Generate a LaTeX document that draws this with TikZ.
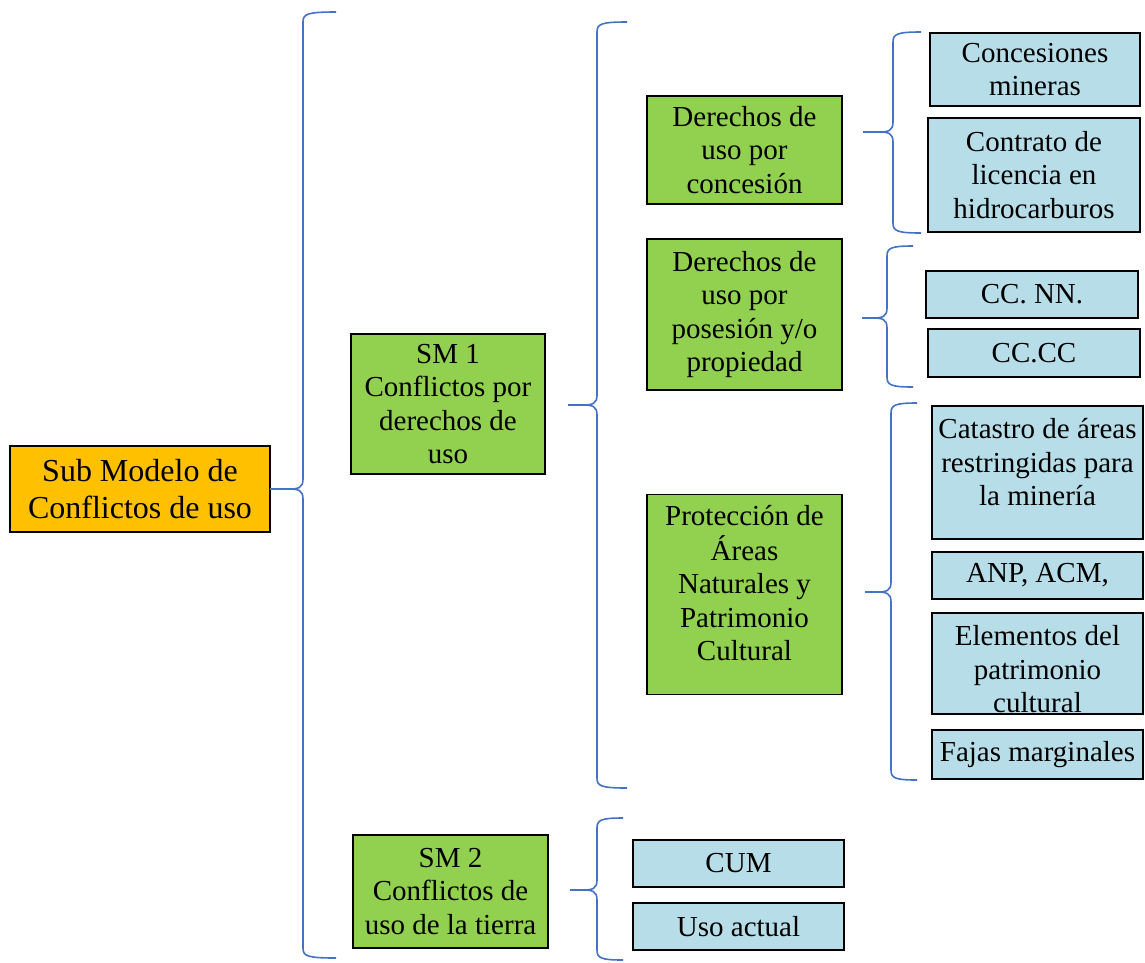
\documentclass[tikz,border=0pt]{standalone}
\usepackage{fontspec}
\setmainfont{Liberation Serif}
\usepackage{xcolor}
\usepackage{tikz}
\usetikzlibrary{calc}

\definecolor{rootfill}{RGB}{255,192,0}
\definecolor{smfill}{RGB}{146,208,80}
\definecolor{leaffill}{RGB}{183,222,232}
\definecolor{bracecol}{RGB}{68,114,196}

\newcommand{\lines}[2]{\raisebox{#1}[\height][\depth]{\begin{tabular}{@{}c@{}}#2\end{tabular}}}

\begin{document}
\begin{tikzpicture}[x = 1pt, y = -1pt,
		box/.style = {draw, line width = 1.5pt, align = center, inner sep = 0pt, font = \fontsize{29}{33.5}\selectfont},
		rootbox/.style = {box, fill = rootfill, font = \fontsize{32}{37}\selectfont},
		smbox/.style = {box, fill = smfill},
		leafbox/.style = {box, fill = leaffill},
		bracestyle/.style = {draw = bracecol, line width = 1.6pt, line join = round}]

			\useasboundingbox (0,0) rectangle (1145,962);

			% #1 tip x, #2 tip y, #3 spine x, #4 top y, #5 bottom y, #6 end x
			\def\sidebrace#1#2#3#4#5#6{%
				\draw [bracestyle] (#6,#4) .. controls (#3+4,#4) and (#3,#4+2) .. (#3,#4+10)
					-- (#3,#2-10) .. controls (#3,#2-1) and (#3-5,#2) .. (#3-14,#2) -- (#1,#2);
				\draw [bracestyle] (#3-14,#2) .. controls (#3-5,#2) and (#3,#2+1) .. (#3,#2+10)
					-- (#3,#5-10) .. controls (#3,#5-2) and (#3+4,#5) .. (#6,#5);
			}

			\begin{scope}
				\node [rootbox, minimum width = 260, minimum height = 86] (root) at (140,489) {Sub Modelo de\\Conflictos de uso};
				\node [smbox, minimum width = 194, minimum height = 140] (sm1) at (448,404) {SM 1\\Conflictos por\\derechos de\\uso};
				\node [smbox, minimum width = 195, minimum height = 113] (sm2) at (450.5,891.5) {SM 2\\Conflictos de\\uso de la tierra};
			\end{scope}

			\begin{scope}
				\node [smbox, minimum width = 195, minimum height = 108] (dcon) at (744.5,150) {Derechos de\\uso por\\concesión};
				\node [smbox, minimum width = 195, minimum height = 151] (dpos) at (744.5,314.5) {Derechos de\\uso por\\posesión y/o\\propiedad};
				\node [smbox, minimum width = 195, minimum height = 200] (prot) at (744.5,594.5) {\lines{8pt}{Protección de\\Áreas\\Naturales y\\Patrimonio\\Cultural}};
			\end{scope}

			\begin{scope}
				\node [leafbox, minimum width = 210, minimum height = 73] (cmin) at (1035,69.5) {Concesiones\\mineras};
				\node [leafbox, minimum width = 212, minimum height = 114] (ctra) at (1034,175) {Contrato de\\licencia en\\hidrocarburos};
				\node [leafbox, minimum width = 212, minimum height = 47] (ccnn) at (1032,294.5) {CC. NN.};
				\node [leafbox, minimum width = 212, minimum height = 48] (cccc) at (1034,353) {CC.CC};
				\node [leafbox, minimum width = 211, minimum height = 133] (cat) at (1037.5,472.5) {\lines{7pt}{Catastro de áreas\\restringidas para\\la minería}};
				\node [leafbox, minimum width = 211, minimum height = 47] (anp) at (1037.5,575.5) {ANP, ACM,};
				\node [leafbox, minimum width = 211, minimum height = 101] (elem) at (1037.5,663.5) {\lines{-9pt}{Elementos del\\patrimonio\\cultural}};
				\node [leafbox, minimum width = 211, minimum height = 49] (faj) at (1037.5,754.5) {Fajas marginales};
				\node [leafbox, minimum width = 211, minimum height = 47] (cum) at (738.5,863.5) {CUM};
				\node [leafbox, minimum width = 211, minimum height = 47] (uso) at (738.5,926.5) {Uso actual};
			\end{scope}

			\begin{scope}
				\sidebrace{270}{489}{303}{12}{958}{336}
				\sidebrace{568}{405}{597}{22}{788}{627}
				\sidebrace{863}{132}{893}{32}{233}{921}
				\sidebrace{862}{318}{887}{246}{387}{913}
				\sidebrace{865}{592}{891}{403}{780}{917}
				\sidebrace{570}{890}{597}{818}{960}{623}
			\end{scope}
		\end{tikzpicture}
\end{document}
